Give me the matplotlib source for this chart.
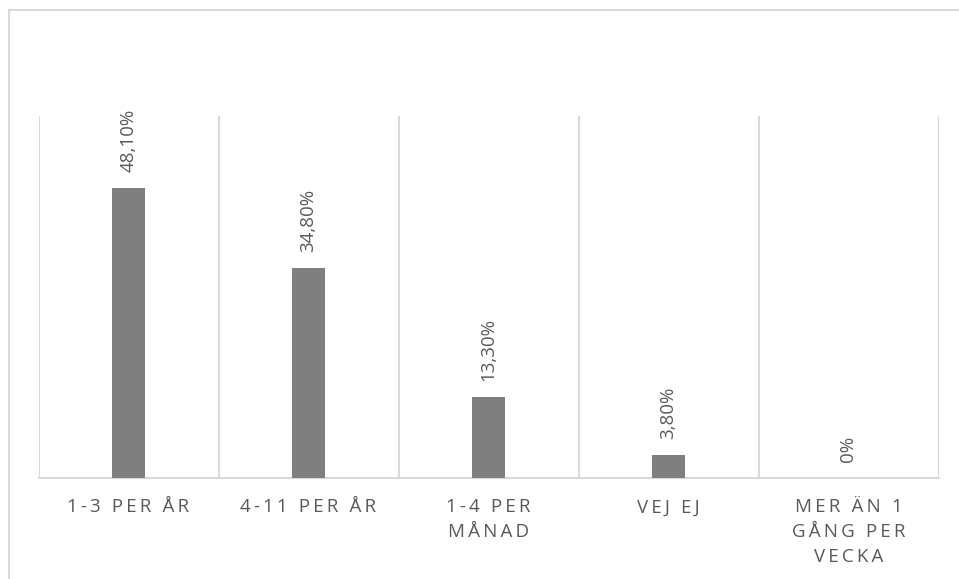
import matplotlib.pyplot as plt
from matplotlib.patches import Rectangle

plt.rcParams['font.family'] = ['Open Sans', 'DejaVu Sans']

# Svar per kategori (andel i procent)
categories = ["1-3 PER ÅR", "4-11 PER ÅR", "1-4 PER\nMÅNAD", "VEJ EJ", "MER ÄN 1\nGÅNG PER\nVECKA"]
values = [48.1, 34.8, 13.3, 3.8, 0.0]
value_labels = ["48,10%", "34,80%", "13,30%", "3,80%", "0%"]

W, H = 959, 579
text_color = "#595959"
line_color = "#d9d9d9"


def spaced(s):
    # widen letter spacing, keep line breaks
    return "\n".join("\u2009".join(line) for line in s.split("\n"))


fig = plt.figure(figsize=(W / 100, H / 100), dpi=100)
ax = fig.add_axes([38.5 / W, (H - 477.5) / H, 900 / W, (477.5 - 116) / H])

x = range(len(values))
ax.bar(x, values, width=0.183, color="#7f7f7f", zorder=3)

for xi, v, lab in zip(x, values, value_labels):
    ax.annotate(lab, (xi, v), xytext=(0, 11.5), textcoords="offset points",
                rotation=90, ha="center", va="bottom", fontsize=13.5, color=text_color)

ax.set_xlim(-0.5, len(values) - 0.5)
ax.set_ylim(0, 60)
ax.set_yticks([])

# category separators
ax.set_xticks([i - 0.5 for i in range(len(values) + 1)], minor=True)
ax.grid(True, which="minor", axis="x", color=line_color, linewidth=1.5, zorder=0)
ax.tick_params(axis="x", which="both", length=0)
ax.set_xticks(list(x))
ax.set_xticklabels([spaced(c) for c in categories], fontsize=13.5, color=text_color,
                   linespacing=1.5, va="top")
ax.tick_params(axis="x", pad=15)

for side in ["top", "left", "right"]:
    ax.spines[side].set_visible(False)
ax.spines["bottom"].set_color(line_color)
ax.spines["bottom"].set_linewidth(1.5)

# outer chart frame
fig.add_artist(Rectangle((8.5 / W, -0.5), 2.0, 1.5 - 10 / H, transform=fig.transFigure,
                         fill=False, edgecolor=line_color, linewidth=1.5))

fig.savefig("out.png", dpi=100)
